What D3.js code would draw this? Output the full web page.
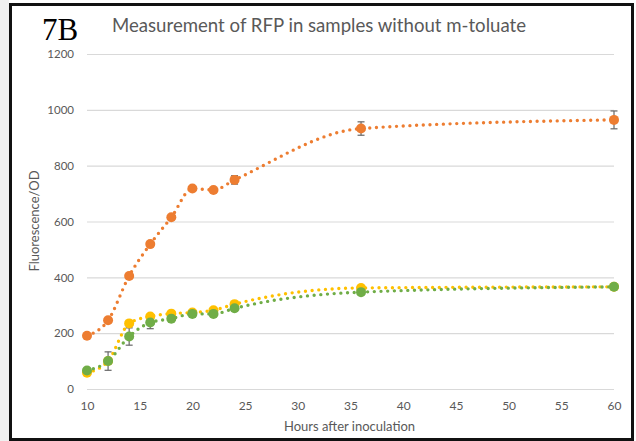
<!DOCTYPE html>
<html>
<head>
<meta charset="utf-8">
<script src="https://cdn.jsdelivr.net/npm/d3@7"></script>
<style>
  body { margin: 0; background: #fff; }
  svg { display: block; }
</style>
</head>
<body>
<div id="plot"></div>
<script>
// data
const hours = [10, 12, 14, 16, 18, 20, 22, 24, 36, 60];
const orangeVals = [191, 246, 405, 519, 615, 718, 713, 749, 933, 964];
const orangeErr  = [4, 5, 6, 5, 5, 5, 6, 15, 24, 32];
const yellowVals = [58, 100, 235, 260, 270, 274, 282, 304, 362, 366];
const yellowErr  = [4, 5, 6, 5, 5, 5, 5, 5, 5, 5];
const greenVals  = [66, 100, 188, 238, 252, 269, 269, 289, 347, 366];
const greenErr   = [5, 33, 31, 22, 8, 11, 5, 5, 5, 5];
const yTicks = [0, 200, 400, 600, 800, 1000, 1200];
const xTicks = [10, 15, 20, 25, 30, 35, 40, 45, 50, 55, 60];

const series = [
  { name: "orange", color: "#ED7D31", vals: orangeVals, err: orangeErr },
  { name: "yellow", color: "#FFC000", vals: yellowVals, err: yellowErr },
  { name: "green",  color: "#70AD47", vals: greenVals,  err: greenErr }
];

const width = 636, height = 441;
const plot = { left: 87, right: 614, top: 54, bottom: 389 };
const textColor = "#595959";
const font = "Lato, 'Open Sans', sans-serif";

const svg = d3.select("div#plot")
  .append("svg")
  .attr("width", width)
  .attr("height", height)
  .style("font-family", font);

// soft shadow left of the frame + frame
svg.append("rect").attr("x", 0).attr("y", 0).attr("width", 9).attr("height", height).attr("fill", "#f0f0f0");
svg.append("rect")
  .attr("x", 10.5).attr("y", 4.5)
  .attr("width", 622).attr("height", 435)
  .attr("fill", "#fff")
  .attr("stroke", "#111")
  .attr("stroke-width", 3);

const x = d3.scaleLinear().domain([10, 60]).range([plot.left, plot.right]);
const y = d3.scaleLinear().domain([0, 1200]).range([plot.bottom, plot.top]);

// y axis with gridlines
const yAxis = svg.append("g")
  .attr("transform", "translate(" + plot.left + ",0)")
  .call(d3.axisLeft(y).tickValues(yTicks).tickFormat(d3.format("d"))
    .tickSize(-(plot.right - plot.left)).tickPadding(13));
yAxis.select(".domain").remove();
yAxis.selectAll("line").attr("stroke", "#d9d9d9").attr("stroke-width", 1.2);
yAxis.selectAll("text").attr("fill", textColor).style("font-size", "11.5px").style("font-family", font);

// x axis
const xAxis = svg.append("g")
  .attr("transform", "translate(0," + plot.bottom + ")")
  .call(d3.axisBottom(x).tickValues(xTicks).tickSize(0).tickPadding(12.5));
xAxis.select(".domain").remove();
xAxis.selectAll("text").attr("fill", textColor).style("font-size", "12px").style("font-family", font);

// smoothed dotted lines
const line = d3.line()
  .x((d, i) => x(hours[i]))
  .y(d => y(d))
  .curve(d3.curveMonotoneX);

series.forEach(s => {
  svg.append("path")
    .datum(s.vals)
    .attr("d", line)
    .attr("fill", "none")
    .attr("stroke", s.color)
    .attr("stroke-width", 3.4)
    .attr("stroke-linecap", "round")
    .attr("stroke-dasharray", "0 6.7");
});

// error bars
series.forEach(s => {
  const g = svg.append("g").attr("stroke", "#666").attr("stroke-width", 1.2);
  s.vals.forEach((v, i) => {
    const cx = x(hours[i]);
    const y0 = y(v - s.err[i]), y1 = y(v + s.err[i]);
    g.append("line").attr("x1", cx).attr("x2", cx).attr("y1", y0).attr("y2", y1);
    g.append("line").attr("x1", cx - 3.5).attr("x2", cx + 3.5).attr("y1", y0).attr("y2", y0);
    g.append("line").attr("x1", cx - 3.5).attr("x2", cx + 3.5).attr("y1", y1).attr("y2", y1);
  });
});

// markers
series.forEach(s => {
  svg.append("g").selectAll("circle")
    .data(s.vals)
    .enter().append("circle")
    .attr("cx", (d, i) => x(hours[i]))
    .attr("cy", d => y(d))
    .attr("r", 5)
    .attr("fill", s.color);
});

// title
const title = svg.append("text")
  .attr("x", 112)
  .attr("y", 32)
  .attr("fill", textColor)
  .style("font-size", "18px")
  .text("Measurement of RFP in samples without m-toluate");
const tw = title.node().getComputedTextLength();
title.style("font-size", (18 * 414 / tw).toFixed(2) + "px");

svg.append("text")
  .attr("x", 42)
  .attr("y", 40)
  .attr("fill", "#000")
  .style("font-family", "'Liberation Serif', 'Times New Roman', serif")
  .style("font-size", "31px")
  .text("7B");

// axis titles
svg.append("text")
  .attr("x", (plot.left + plot.right) / 2 - 1)
  .attr("y", 431)
  .attr("text-anchor", "middle")
  .attr("fill", textColor)
  .style("font-size", "13px")
  .text("Hours after inoculation");

svg.append("text")
  .attr("transform", "translate(39,221) rotate(-90)")
  .attr("text-anchor", "middle")
  .attr("fill", textColor)
  .style("font-size", "13px")
  .text("Fluorescence/OD");
</script>
</body>
</html>
